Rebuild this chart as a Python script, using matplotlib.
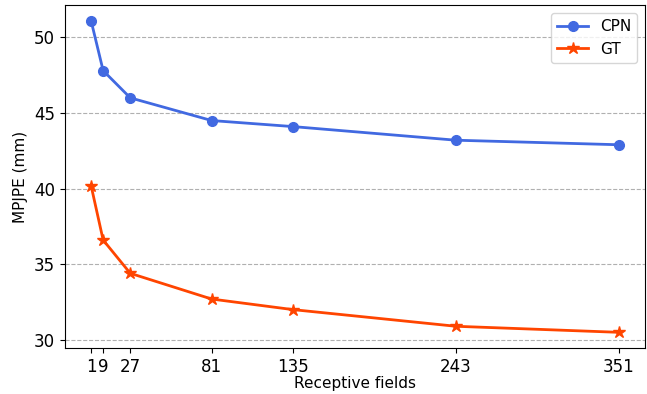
import matplotlib
matplotlib.use('Agg')
import matplotlib.pyplot as plt

# receptive field sizes and errors (mm)
frames = [1, 9, 27, 81, 135, 243, 351]
cpn = [51.1, 47.8, 46.0, 44.5, 44.1, 43.2, 42.9]
gt = [40.2, 36.6, 34.4, 32.7, 32.0, 30.9, 30.5]

fig, ax = plt.subplots(figsize=(6.47, 3.94), dpi=100)
ax.plot(frames, cpn, color='royalblue', marker='o', markersize=7, linewidth=2, label='CPN')
ax.plot(frames, gt, color='orangered', marker='*', markersize=9, linewidth=2, label='GT')

ax.set_xticks(frames)
ax.set_yticks([30, 35, 40, 45, 50])
ax.tick_params(labelsize=12)
ax.set_xlabel('Receptive fields', fontsize=11, labelpad=0)
ax.set_ylabel('MPJPE (mm)', fontsize=11)
ax.grid(axis='y', linestyle='--', color='#b0b0b0')
ax.legend(loc='upper right', fontsize=11)

plt.subplots_adjust(left=0.1, right=0.997, top=0.987, bottom=0.117)
plt.savefig('out.png', dpi=100)
